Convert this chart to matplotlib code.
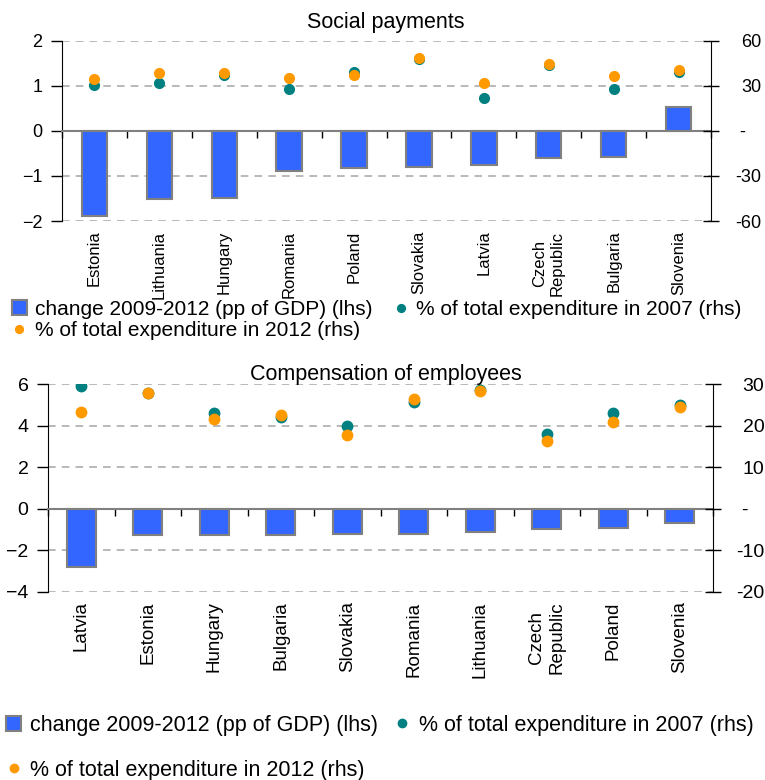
import matplotlib.pyplot as plt
import numpy as np

plt.rcParams['font.family'] = ['Liberation Sans', 'DejaVu Sans']

# Social payments
sp_countries = ['Estonia', 'Lithuania', 'Hungary', 'Romania', 'Poland', 'Slovakia',
                'Latvia', 'Czech\nRepublic', 'Bulgaria', 'Slovenia']
sp_change = [-1.88, -1.52, -1.49, -0.88, -0.83, -0.80, -0.75, -0.61, -0.57, 0.52]
sp_2007 = [30.4, 31.7, 37.2, 27.9, 39.5, 47.5, 21.9, 43.5, 27.9, 39.0]
sp_2012 = [34.8, 38.6, 38.4, 35.5, 37.0, 48.8, 31.9, 44.4, 36.8, 40.6]

# Compensation of employees
ce_countries = ['Latvia', 'Estonia', 'Hungary', 'Bulgaria', 'Slovakia', 'Romania',
                'Lithuania', 'Czech\nRepublic', 'Poland', 'Slovenia']
ce_change = [-2.83, -1.29, -1.29, -1.28, -1.21, -1.21, -1.14, -1.00, -0.92, -0.71]
ce_2007 = [29.7, 27.8, 23.0, 22.2, 19.9, 25.8, 28.6, 18.1, 23.0, 24.9]
ce_2012 = [23.3, 27.9, 21.6, 22.6, 17.7, 26.5, 28.3, 16.3, 20.8, 24.5]

labels = ['change 2009-2012 (pp of GDP) (lhs)',
          '% of total expenditure in 2007 (rhs)',
          '% of total expenditure in 2012 (rhs)']

BLUE = '#3366FF'
TEAL = '#008080'
ORANGE = '#FF9900'


def panel(fig, rect, names, change, v07, v12, lhs_ticks, rhs_ticks, rhs_labels,
          bar_w, xfs, lfs, rfs, rpad, ms):
    ax = fig.add_axes(rect)
    x = np.arange(len(names))
    bars = ax.bar(x, change, width=bar_w, color=BLUE, edgecolor='#808080',
                  linewidth=1.5, zorder=3)
    ax.set_xlim(-0.5, len(names) - 0.5)
    ax.set_ylim(lhs_ticks[0], lhs_ticks[-1])
    ax.set_yticks(lhs_ticks)
    ax.tick_params(axis='y', direction='out', length=8, width=1, labelsize=lfs, pad=6)
    ax.grid(axis='y', linestyle=(0, (5, 4)), color='#A6A6A6', linewidth=1.1, zorder=0)
    ax.spines['top'].set_visible(False)
    ax.spines['right'].set_visible(False)
    ax.spines['bottom'].set_position(('data', 0))
    ax.spines['bottom'].set_color('#808080')
    ax.spines['bottom'].set_linewidth(1.5)
    ax.spines['bottom'].set_zorder(4)
    # category boundary ticks on the zero line
    ax.set_xticks(np.arange(len(names) + 1) - 0.5)
    ax.set_xticklabels([])
    ax.tick_params(axis='x', direction='out', length=5, width=1, color='black')

    sec = ax.secondary_xaxis('bottom')
    sec.set_xticks(x, names)
    sec.tick_params(length=0, labelrotation=90, labelsize=xfs, pad=7)
    sec.spines['bottom'].set_visible(False)

    ax2 = ax.twinx()
    l07, = ax2.plot(x, v07, 'o', color=TEAL, ms=ms, zorder=5)
    l12, = ax2.plot(x, v12, 'o', color=ORANGE, ms=ms, zorder=6)
    ax2.set_ylim(rhs_ticks[0], rhs_ticks[-1])
    ax2.set_yticks(rhs_ticks, rhs_labels)
    ax2.tick_params(axis='y', direction='inout', length=12, width=1, labelsize=rfs, pad=rpad)
    for t in ax2.get_yticklabels():
        t.set_horizontalalignment('right')
    for s in ['top', 'left', 'bottom']:
        ax2.spines[s].set_visible(False)
    return bars, l07, l12


fig = plt.figure(figsize=(7.65, 7.8), dpi=100)

# top panel
b, t07, t12 = panel(fig, [62 / 765, 1 - 221 / 780, 649 / 765, 180.3 / 780],
                    sp_countries, sp_change, sp_2007, sp_2012,
                    [-2, -1, 0, 1, 2], [-60, -30, 0, 30, 60],
                    ['-60', '-30', '-   ', '30', '60'],
                    0.39, 12, 13, 13, 30, 7)
fig.text(386 / 765, 1 - 28 / 780, 'Social payments', ha='center', va='baseline', fontsize=15.5)
fig.legend([b, t12, t07], [labels[0], labels[2], labels[1]], ncol=2,
           loc='upper left', bbox_to_anchor=(12 / 765, 1 - 300 / 780),
           frameon=False, fontsize=15, handlelength=0.7, handleheight=0.7,
           handletextpad=0.4, columnspacing=1.0, labelspacing=0.1,
           borderpad=0, borderaxespad=0, markerscale=0.8)

# bottom panel
b, c07, c12 = panel(fig, [48 / 765, 1 - 591.7 / 780, 665 / 765, 207.4 / 780],
                    ce_countries, ce_change, ce_2007, ce_2012,
                    [-4, -2, 0, 2, 4, 6], [-20, -10, 0, 10, 20, 30],
                    ['-20', '-10', '-   ', '10', '20', '30'],
                    0.43, 13.5, 14, 14, 31, 7.5)
fig.text(386 / 765, 1 - 380 / 780, 'Compensation of employees', ha='center',
         va='baseline', fontsize=15.5)
fig.legend([b, c12, c07], [labels[0], labels[2], labels[1]], ncol=2,
           loc='upper left', bbox_to_anchor=(6 / 765, 1 - 715 / 780),
           frameon=False, fontsize=15.5, handlelength=0.7, handleheight=0.7,
           handletextpad=0.4, columnspacing=0.8, labelspacing=1.1,
           borderpad=0, borderaxespad=0, markerscale=0.8)

fig.savefig('out.png', dpi=100)
